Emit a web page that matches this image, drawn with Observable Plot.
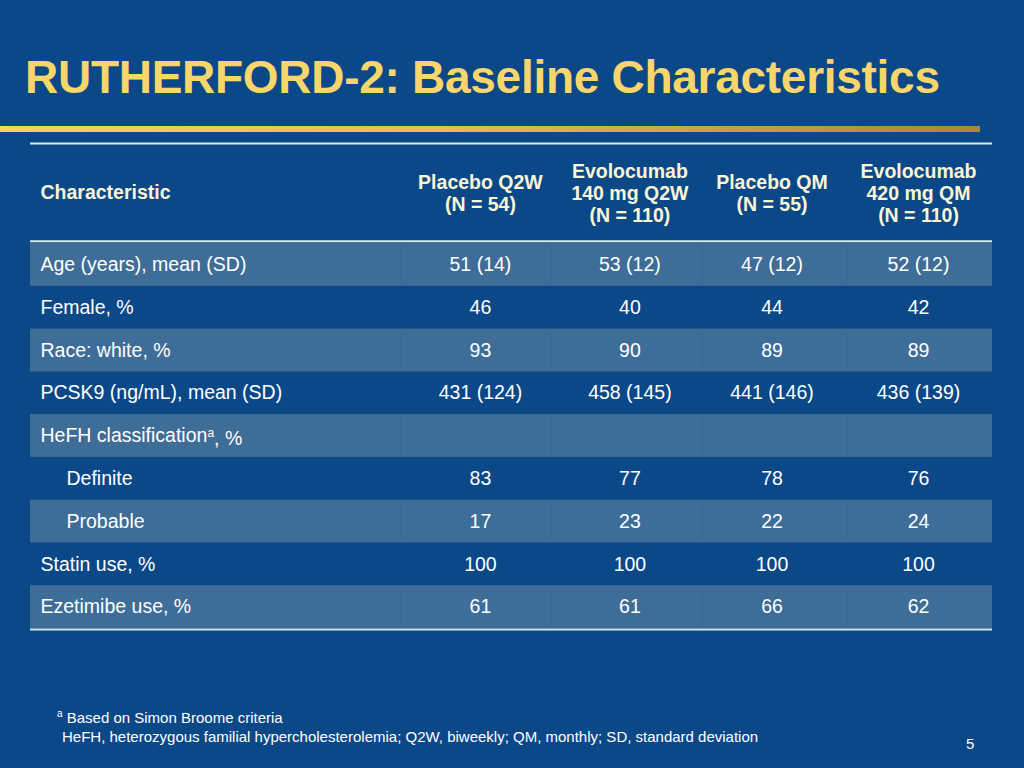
<!DOCTYPE html>
<html>
<head>
<meta charset="utf-8">
<script src="https://cdn.jsdelivr.net/npm/d3@7"></script>
<script src="https://cdn.jsdelivr.net/npm/@observablehq/plot@0.6"></script>
<style>
  html, body { margin: 0; padding: 0; background: #0b4888; }
  #slide { position: relative; width: 1024px; height: 768px; overflow: hidden; background: #0b4888; font-family: "Liberation Sans", Arial, sans-serif; }
  #title { position: absolute; left: 25px; top: 50px; margin: 0; font-size: 46px; font-weight: bold; color: #f8d66b; white-space: nowrap; letter-spacing: -0.28px; }
  #goldbar { position: absolute; left: 0; top: 126px; width: 980px; height: 6px; background: linear-gradient(to right, #f4d55e, #e2c052 45%, #a8883a); }
  #chart { position: absolute; left: 0; top: 140px; }
  .foot { position: absolute; color: #ffffff; font-size: 15px; white-space: nowrap; }
  .foot sup { font-size: 10px; }
</style>
</head>
<body>
<div id="slide">
  <h1 id="title">RUTHERFORD-2: Baseline Characteristics</h1>
  <div id="goldbar"></div>
  <div id="chart"></div>
  <div class="foot" style="left:57px; top:708px;"><sup>a</sup> Based on Simon Broome criteria</div>
  <div class="foot" style="left:62px; top:728px;">HeFH, heterozygous familial hypercholesterolemia; Q2W, biweekly; QM, monthly; SD, standard deviation</div>
  <div class="foot" style="left:966px; top:735px;">5</div>
</div>
<script>
// ---- data ----
const columnHeaders = ["Characteristic", "Placebo Q2W\n(N = 54)", "Evolocumab\n140 mg Q2W\n(N = 110)", "Placebo QM\n(N = 55)", "Evolocumab\n420 mg QM\n(N = 110)"];
const rowLabels = ["Age (years), mean (SD)", "Female, %", "Race: white, %", "PCSK9 (ng/mL), mean (SD)", "HeFH classificationᵃ, %", "Definite", "Probable", "Statin use, %", "Ezetimibe use, %"];
const indentedRows = ["Definite", "Probable"];
const placeboQ2W    = ["51 (14)", "46", "93", "431 (124)", "", "83", "17", "100", "61"];
const evolocumab140 = ["53 (12)", "40", "90", "458 (145)", "", "77", "23", "100", "61"];
const placeboQM     = ["47 (12)", "44", "89", "441 (146)", "", "78", "22", "100", "66"];
const evolocumab420 = ["52 (12)", "42", "89", "436 (139)", "", "76", "24", "100", "62"];

// ---- layout (table units) ----
const colCenter = [0, 3.04, 4.05, 5.01, 6.0];
const colBounds = [2.5, 3.52, 4.54, 5.52];
const tableEnd = 6.5;
const headerCenter = -1.19;
const ruleRows = [-2.34, -0.05, 9.02];

const light = "#3e6d98", sep = "#39699a";
const headColor = "#fbf6d6", bodyColor = "#ffffff", lineColor = "#d6ebe8";
const font = "Liberation Sans, Arial, sans-serif";

const series = [placeboQ2W, evolocumab140, placeboQM, evolocumab420];
const rows = rowLabels.map((label, i) => ({i, label, indent: indentedRows.includes(label)}));
const lightRows = rows.filter(r => r.i % 2 === 0);
const cells = [];
series.forEach((vals, j) => vals.forEach((v, i) => cells.push({i, col: j + 1, value: v})));
const headers = columnHeaders.map((h, c) => ({c, h}));
const seps = [];
lightRows.forEach(r => colBounds.forEach(x => seps.push({i: r.i, x})));

const H = 495;
const chart = Plot.plot({
  width: 1024,
  height: H,
  margin: 0,
  style: {background: "transparent", overflow: "visible", fontFamily: font},
  x: {type: "linear", domain: [0, tableEnd], range: [30, 992], axis: null},
  y: {type: "linear", domain: [-103 / 42.78, (H - 103) / 42.78], range: [0, H], axis: null},
  marks: [
    Plot.rect(lightRows, {x1: 0, x2: tableEnd, y1: d => d.i, y2: d => d.i + 1, fill: light}),
    Plot.ruleX(seps, {x: "x", y1: d => d.i, y2: d => d.i + 1, stroke: sep, strokeWidth: 1}),
    Plot.ruleY(ruleRows, {x1: 0, x2: tableEnd, stroke: lineColor, strokeWidth: 2}),
    // header
    Plot.text(headers.filter(d => d.c === 0), {x: 0, y: headerCenter, text: "h", textAnchor: "start", dx: 10, fill: headColor, fontWeight: "bold", fontSize: 19.5}),
    Plot.text(headers.filter(d => d.c > 0), {x: d => colCenter[d.c], y: headerCenter, text: "h", textAnchor: "middle", lineHeight: 1.13, fill: headColor, fontWeight: "bold", fontSize: 19.5}),
    // row labels
    Plot.text(rows.filter(d => !d.indent), {x: 0, y: d => d.i + 0.5, text: "label", textAnchor: "start", dx: 10, fill: bodyColor, fontSize: 19.5}),
    Plot.text(rows.filter(d => d.indent), {x: 0, y: d => d.i + 0.5, text: "label", textAnchor: "start", dx: 36, fill: bodyColor, fontSize: 19.5}),
    // values
    Plot.text(cells, {x: d => colCenter[d.col], y: d => d.i + 0.5, text: "value", textAnchor: "middle", fill: bodyColor, fontSize: 19.5})
  ]
});
document.getElementById("chart").appendChild(chart);

// superscript "a" in the HeFH label
d3.select(chart).selectAll("text").each(function() {
  const t = d3.select(this);
  const s = t.text();
  if (s.includes("ᵃ")) {
    const [a, b] = s.split("ᵃ");
    t.text(null);
    t.append("tspan").text(a);
    t.append("tspan").attr("dy", "-0.4em").attr("font-size", "12px").text("a");
    t.append("tspan").attr("dy", "0.4em").text(b);
  }
});
</script>
</body>
</html>
